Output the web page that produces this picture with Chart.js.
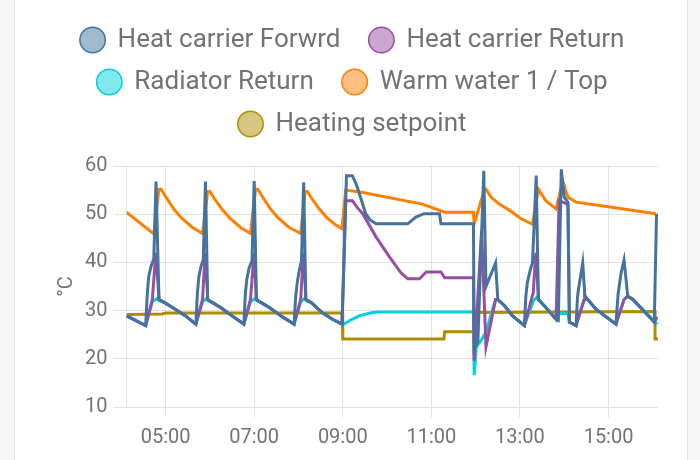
<!DOCTYPE html>
<html>
<head>
<meta charset="utf-8">
<script src="https://cdn.jsdelivr.net/npm/chart.js@4.4.0/dist/chart.umd.min.js"></script>
<style>
html, body { margin: 0; padding: 0; background: #f7f7f7; }
.card { position: absolute; left: 14px; top: 0; width: 672px; height: 460px; background: #fff;
        border-left: 1px solid #e4e4e4; border-right: 1px solid #e4e4e4; }
#box { position: absolute; left: 0; top: 0; width: 700px; height: 460px; }
</style>
</head>
<body>
<div class="card"></div>
<div id="box"><canvas id="chart" width="700" height="460"></canvas></div>
<script>
// times are HH:MM of the same day, values in °C
var timeTicks = ['05:00', '07:00', '09:00', '11:00', '13:00', '15:00'];
var startTime = '04:07';
var endTime = '16:07';
var yTicks = [10, 20, 30, 40, 50, 60];

var forwardT = ['04:07','04:33','04:35','04:37','04:40','04:44','04:47','04:51','04:58','05:10','05:27',
  '05:41','05:43','05:45','05:48','05:51','05:54','05:57','06:03','06:15','06:31',
  '06:46','06:48','06:50','06:53','06:57','07:00','07:03','07:09','07:21','07:38',
  '07:54','07:56','07:58','08:01','08:04','08:07','08:10','08:17','08:32','08:46',
  '08:59','09:05','09:13','09:18','09:24','09:31','09:37','09:45','10:28','10:39','10:50','11:11','11:13','11:57',
  '11:58','12:00','12:03','12:11','12:14','12:27','12:30','12:39','12:50',
  '13:06','13:08','13:10','13:14','13:17','13:22','13:25','13:33','13:49','13:52',
  '13:56','14:00','14:05','14:07','14:16','14:18','14:20','14:25','14:28','14:43',
  '15:10','15:13','15:17','15:21','15:26','15:33','16:02','16:05'];
var forwardV = [28.9,26.9,33.0,37.0,39.0,40.8,56.8,32.3,31.7,30.6,28.9,
  27.2,33.5,37.0,39.2,40.5,56.8,32.3,31.7,30.6,28.8,
  27.2,33.5,36.5,38.8,40.3,56.9,32.3,31.7,30.6,28.7,
  27.2,32.5,35.5,38.3,40.3,56.6,32.3,31.7,29.6,28.2,
  27.2,58.0,58.0,56.3,53.5,50.1,48.8,48.0,48.0,49.4,50.1,50.1,48.0,48.0,
  22.0,22.6,23.5,59.0,35.0,39.9,32.3,31.0,28.9,
  26.9,33.0,35.8,38.5,39.9,58.0,32.3,31.0,28.2,28.0,
  59.3,53.5,52.5,27.6,26.9,33.0,35.1,39.9,33.0,30.3,
  27.2,33.5,37.8,40.5,33.0,32.3,27.6,50.1];

var returnT = ['04:07','04:33','04:42','04:46','04:47','04:51','04:58','05:10','05:27',
  '05:41','05:50','05:53','05:54','05:57','06:03','06:15','06:31',
  '06:46','06:55','06:59','07:00','07:03','07:09','07:21','07:38',
  '07:54','08:03','08:06','08:07','08:10','08:17','08:32','08:46',
  '08:59','09:04','09:13','09:20','09:27','09:45','10:03','10:19','10:28','10:44','10:53','11:13','11:18','11:57',
  '11:58','12:08','12:14','12:27','12:30','12:39','12:50',
  '13:06','13:18','13:21','13:22','13:25','13:33','13:49','13:53','13:58','14:05','14:07',
  '14:16','14:27','14:28','14:43','15:10','15:21','15:26','15:33','16:02','16:06'];
var returnV = [28.9,26.9,32.3,40.5,42.0,32.3,31.7,30.6,28.9,
  27.2,32.3,40.3,42.0,32.3,31.7,30.6,28.8,
  27.2,32.3,40.3,42.0,32.3,31.7,30.6,28.7,
  27.2,32.3,40.3,42.0,32.3,31.7,29.6,28.2,
  27.2,52.8,52.8,51.3,50.1,45.3,41.2,37.8,36.6,36.6,38.0,38.0,36.8,36.8,
  19.6,46.5,22.5,32.3,32.3,31.0,28.9,
  26.9,33.7,41.0,42.0,32.3,31.0,28.2,52.8,52.5,52.0,27.6,
  26.9,32.3,33.0,30.3,27.2,32.3,33.0,32.3,27.6,28.7];

var radiatorT = ['04:07','04:33','04:42','04:48','04:52','04:58','05:10','05:27',
  '05:41','05:50','05:55','05:58','06:03','06:15','06:31',
  '06:46','06:55','07:01','07:04','07:09','07:21','07:38',
  '07:54','08:03','08:08','08:11','08:17','08:32','08:46',
  '08:59','09:02','09:09','09:22','09:40','09:49','11:57',
  '11:58','12:01','12:06','12:14','12:27','12:30','12:39','12:50',
  '13:06','13:18','13:23','13:25','13:33','13:49','13:52','14:05','14:07',
  '14:16','14:27','14:28','14:43','15:10','15:21','15:26','15:33','16:06'];
var radiatorV = [28.9,26.9,31.8,32.5,32.0,31.7,30.6,28.9,
  27.2,31.8,32.5,32.0,31.7,30.6,28.8,
  27.2,31.8,32.5,32.0,31.7,30.6,28.7,
  27.2,31.8,32.5,32.0,31.7,29.6,28.2,
  27.2,27.2,27.9,28.9,29.6,29.7,29.7,
  16.6,22.5,23.5,25.5,32.3,32.3,31.0,28.9,
  26.9,32.0,32.8,32.3,31.0,28.2,29.4,29.4,27.6,
  26.9,32.3,33.0,30.3,27.2,32.3,33.0,32.3,27.2];

var warmT = ['04:07','04:44','04:51','04:54','05:01','05:11','05:21','05:36','05:50',
  '05:57','06:00','06:07','06:17','06:27','06:42','06:55',
  '07:02','07:05','07:12','07:22','07:32','07:47','08:03',
  '08:09','08:12','08:19','08:29','08:39','08:50','08:59',
  '09:04','09:27','10:48','11:18','11:57','11:58',
  '12:12','12:14','12:21','12:32','12:46','13:01','13:17',
  '13:25','13:35','13:49','13:58','14:05','14:16','14:48','16:04'];
var warmV = [50.4,45.9,55.2,55.2,53.4,51.1,49.3,47.3,46.0,
  54.7,54.7,53.0,50.9,49.2,47.2,46.0,
  55.2,55.2,53.4,51.1,49.3,47.3,46.0,
  54.7,54.7,53.0,50.9,49.2,47.8,47.0,
  55.0,54.5,52.1,50.4,50.4,48.0,
  55.2,55.2,53.5,52.1,50.8,49.1,47.9,
  55.2,52.8,51.1,56.9,53.5,52.5,51.8,50.1];

var setpointT = ['04:07','04:55','05:00','08:59','09:00','11:17','11:18','11:57','11:58','16:03','16:03','16:07'];
var setpointV = [29.2,29.3,29.5,29.5,24.1,24.1,25.6,25.6,29.6,29.8,24.1,24.1];

var names = ['Heat carrier Forwrd', 'Heat carrier Return', 'Radiator Return', 'Warm water 1 / Top', 'Heating setpoint'];
var colors = ['#44739e', '#984ea3', '#00d2d5', '#ff7f00', '#af8d00'];
var fills = ['rgba(68,115,158,0.5)', 'rgba(152,78,163,0.5)', 'rgba(0,210,213,0.5)', 'rgba(255,127,0,0.5)', 'rgba(175,141,0,0.5)'];

function toHours(t) {
    var p = t.split(':');
    return parseInt(p[0], 10) + parseInt(p[1], 10) / 60;
}

function series(times, values) {
    var out = [];
    for (var i = 0; i < times.length; i++) {
        out.push({ x: toHours(times[i]), y: values[i] });
    }
    return out;
}

var allT = [forwardT, returnT, radiatorT, warmT, setpointT];
var allV = [forwardV, returnV, radiatorV, warmV, setpointV];
var datasets = [];
for (var i = 0; i < names.length; i++) {
    datasets.push({
        label: names[i],
        data: series(allT[i], allV[i]),
        borderColor: colors[i],
        backgroundColor: fills[i],
        borderWidth: 3,
        pointRadius: 0,
        tension: 0,
        fill: false
    });
}

var grey = '#737373';
var gridColor = '#e2e2e2';
var font = 'Roboto';

// a bit more room under the legend
var legendGap = {
    id: 'legendGap',
    beforeInit: function (chart) {
        var fit = chart.legend.fit;
        chart.legend.fit = function () {
            fit.call(this);
            this.height += 19;
        };
    }
};

var myChart = new Chart(document.getElementById('chart'), {
    type: 'line',
    data: { datasets: datasets },
    plugins: [legendGap],
    options: {
        responsive: false,
        animation: false,
        devicePixelRatio: 1,
        layout: { padding: { top: 11, right: 42, left: 47, bottom: 1 } },
        plugins: {
            tooltip: { enabled: false },
            legend: {
                position: 'top',
                labels: {
                    font: { family: font, size: 26 },
                    color: grey,
                    usePointStyle: true,
                    pointStyle: 'circle',
                    boxWidth: 24,
                    boxHeight: 18,
                    padding: 16,
                    generateLabels: function (chart) {
                        var items = Chart.defaults.plugins.legend.labels.generateLabels(chart);
                        items.forEach(function (it, k) {
                            it.lineWidth = 1.5;
                            // first item of rows 1 and 2 keeps a wider gap to its neighbour
                            if (k === 0 || k === 2) it.text = it.text + '  ';
                        });
                        return items;
                    }
                }
            }
        },
        scales: {
            x: {
                type: 'linear',
                min: toHours(startTime),
                max: toHours(endTime),
                afterBuildTicks: function (scale) {
                    scale.ticks = timeTicks.map(function (t) { return { value: toHours(t) }; });
                },
                ticks: {
                    font: { family: font, size: 20 },
                    color: grey,
                    padding: 9,
                    maxRotation: 0,
                    callback: function (v) {
                        var h = Math.round(v);
                        return (h < 10 ? '0' : '') + h + ':00';
                    }
                },
                grid: { color: gridColor, tickLength: 10 },
                border: { display: false }
            },
            y: {
                min: yTicks[0],
                max: yTicks[yTicks.length - 1],
                ticks: {
                    stepSize: 10,
                    font: { family: font, size: 20 },
                    color: grey,
                    padding: 6
                },
                title: {
                    display: true,
                    text: '°C',
                    font: { family: font, size: 20 },
                    color: grey,
                    padding: { top: 8, bottom: 0 }
                },
                grid: { color: gridColor, tickLength: 13 },
                border: { color: gridColor }
            }
        }
    }
});
</script>
</body>
</html>
